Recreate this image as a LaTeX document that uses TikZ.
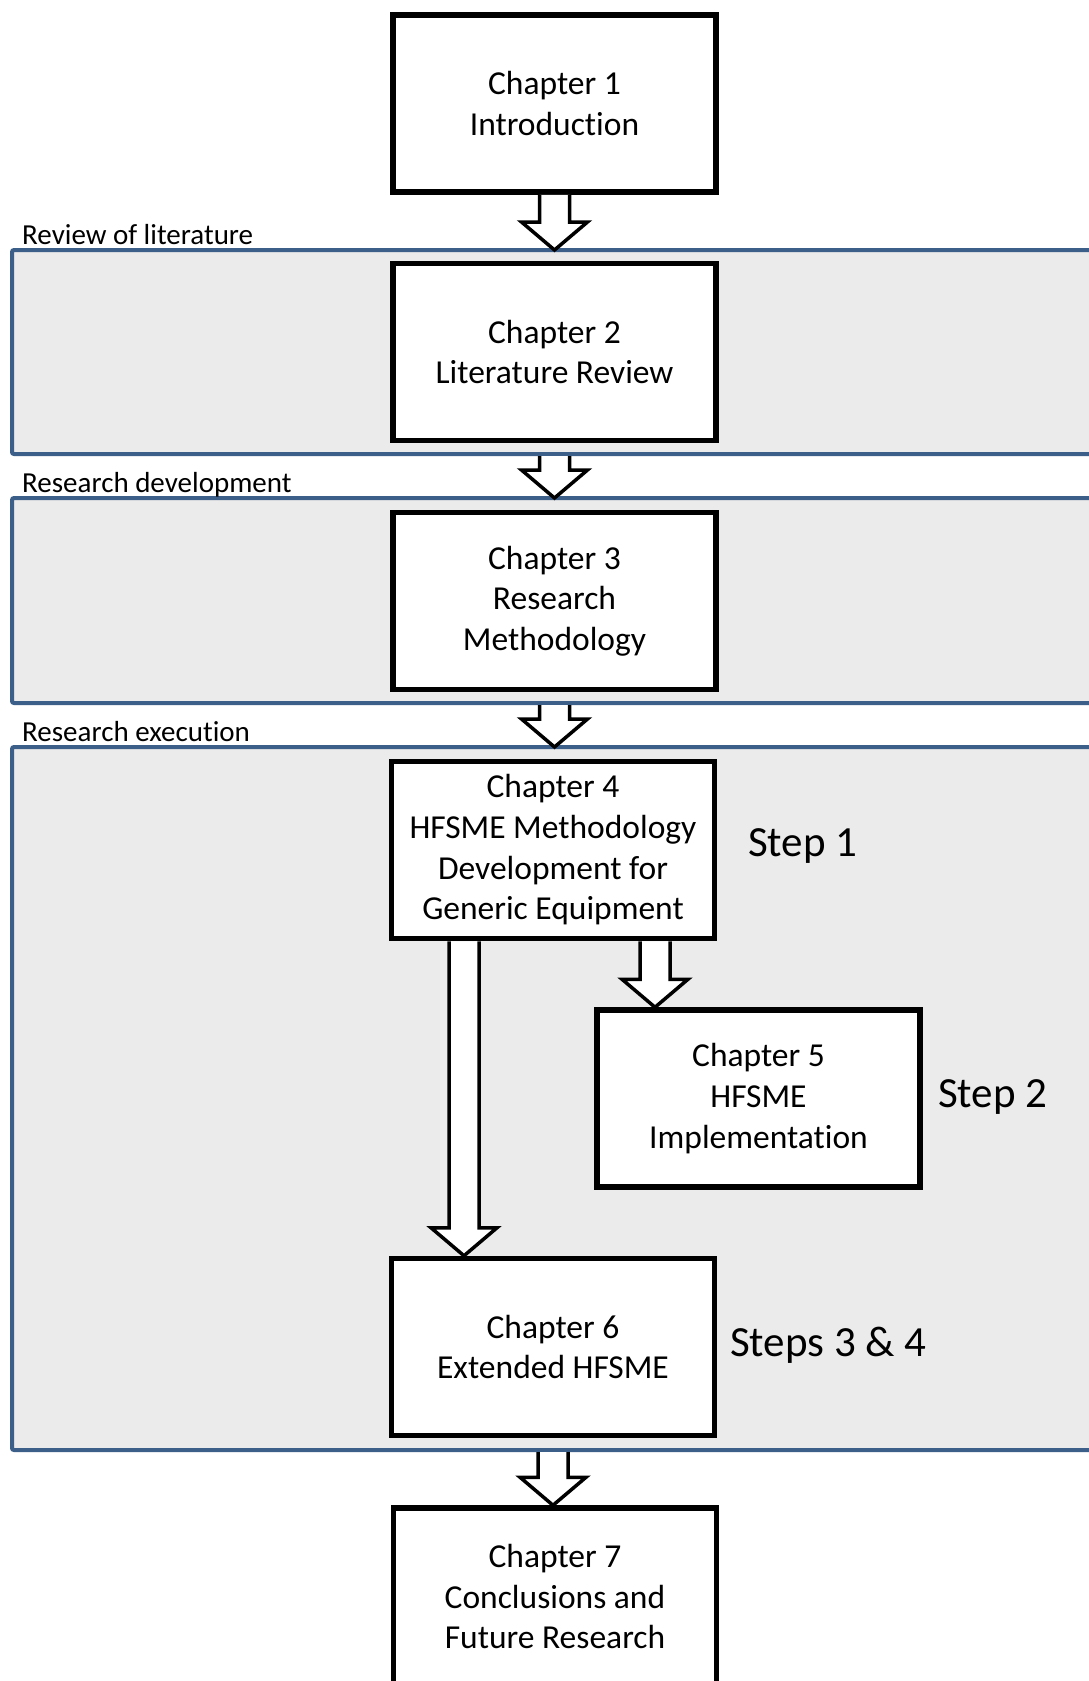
\documentclass[tikz,border=0pt]{standalone}
\usepackage{fontspec}
\setmainfont{Carlito}[RawFeature={-liga;-clig;-calt;-rlig;-dlig}]
\usetikzlibrary{calc}
\definecolor{bandblue}{HTML}{3C5F8A}
\definecolor{bandgray}{HTML}{EBEBEB}
\newcommand\blockarr[2]{\path[blockarrow] let \p1=(#1), \p2=(#2) in
  (\x1-15pt,\y1) -- (\x1-15pt,\y2+28pt) -- (\x1-33pt,\y2+28pt) -- (\x1,\y2)
  -- (\x1+33pt,\y2+28pt) -- (\x1+15pt,\y2+28pt) -- (\x1+15pt,\y1);}
\begin{document}
\begin{tikzpicture}[x=1pt,y=-1pt,
  chbox/.style={draw=black, line width=5.5pt, fill=white, minimum width=323pt,
    minimum height=177pt, inner sep=0pt, align=center,
    font=\fontsize{33.5}{40.7}\selectfont},
  band/.style={draw=bandblue, fill=bandgray, line width=4pt, rounded corners=2pt,
    inner sep=0pt, outer sep=0pt, minimum width=1090pt},
  bandlabel/.style={anchor=base west, inner sep=0pt, font=\fontsize{29}{34}\selectfont},
  steplabel/.style={anchor=west, inner sep=0pt, font=\fontsize{43}{50}\selectfont},
  blockarrow/.style={draw=black, line width=3.5pt, fill=white, line join=miter}]
\clip (0,0) rectangle (1089,1681);
\useasboundingbox (0,0) rectangle (1089,1681);
% bands
\node[band, minimum height=204pt] (b1) at (557,352) {};
\node[band, minimum height=205pt] (b2) at (557,600.5) {};
\node[band, minimum height=703pt] (b3) at (557,1098.5) {};
\node[bandlabel] (l1) at (22,244) {Review of literature};
\node[bandlabel] (l2) at (22,492) {Research development};
\node[bandlabel] (l3) at (22,741) {Research execution};
% boxes
\node[chbox] (ch1) at (554.5,103.5) {Chapter 1\\Introduction};
\node[chbox] (ch2) at (554.5,352) {Chapter 2\\Literature Review};
\node[chbox] (ch3) at (554.5,601) {Chapter 3\\Research\\Methodology};
\node[chbox] (ch4) at (553,850) {Chapter 4\\HFSME Methodology\\Development for\\Generic Equipment};
\node[chbox] (ch5) at (758.5,1098.5) {Chapter 5\\HFSME\\Implementation};
\node[chbox] (ch6) at (553,1347) {Chapter 6\\Extended HFSME};
\node[chbox] (ch7) at (555,1596.5) {Chapter 7\\Conclusions and\\Future Research};
% block arrows
\blockarr{ch1.south}{ch1 |- b1.north}
\blockarr{$(ch2 |- b1.south)+(0,2)$}{ch2 |- b2.north}
\blockarr{$(ch3 |- b2.south)+(0,2)$}{ch3 |- b3.north}
\blockarr{$(ch4.south)+(-89,0)$}{ch6.north}
\blockarr{$(ch4.south)+(102,0)$}{ch5.north}
\blockarr{$(ch6 |- b3.south)+(0,2)$}{ch7.north}
% step labels
\node[steplabel] (s1) at (748,846) {Step 1};
\node[steplabel] (s2) at (938,1097) {Step 2};
\node[steplabel] (s3) at (730,1345) {Steps 3 \& 4};
\end{tikzpicture}
\end{document}
